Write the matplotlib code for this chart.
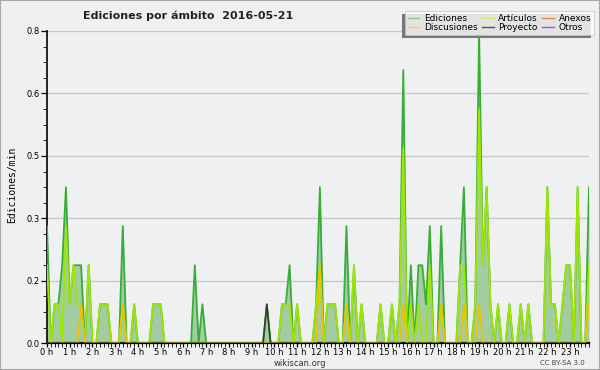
import numpy as np
import matplotlib
matplotlib.use('Agg')
import matplotlib.pyplot as plt
from matplotlib.patches import Rectangle
from matplotlib.lines import Line2D

# 10-minute bins over the day, edits per minute
ediciones = [0.3, 0, 0.1, 0.1, 0.2, 0.4, 0.1, 0.2, 0.2, 0.2, 0, 0.2,
             0, 0, 0.1, 0.1, 0.1, 0, 0, 0, 0.3, 0, 0, 0.1,
             0, 0, 0, 0, 0.1, 0.1, 0.1, 0, 0, 0, 0, 0,
             0, 0, 0, 0.2, 0, 0.1, 0, 0, 0, 0, 0, 0,
             0, 0, 0, 0, 0, 0, 0, 0, 0, 0, 0.1, 0,
             0, 0, 0.1, 0.1, 0.2, 0, 0.1, 0, 0, 0, 0, 0.1,
             0.4, 0, 0.1, 0.1, 0.1, 0, 0, 0.3, 0, 0.2, 0, 0.1,
             0, 0, 0, 0, 0.1, 0, 0, 0.1, 0, 0.1, 0.7, 0,
             0.2, 0, 0.2, 0.2, 0.1, 0.3, 0, 0, 0.3, 0, 0, 0,
             0, 0.2, 0.4, 0, 0, 0.1, 0.8, 0.2, 0.4, 0.1, 0, 0.1,
             0, 0, 0.1, 0, 0, 0.1, 0, 0.1, 0, 0, 0, 0,
             0.4, 0.1, 0.1, 0, 0.1, 0.2, 0.2, 0, 0.4, 0, 0, 0.4]
articulos = [0.2, 0, 0.1, 0.1, 0, 0.3, 0.1, 0.2, 0.1, 0.1, 0, 0.2,
             0, 0, 0.1, 0.1, 0.1, 0, 0, 0, 0.1, 0, 0, 0.1,
             0, 0, 0, 0, 0.1, 0.1, 0.1, 0, 0, 0, 0, 0,
             0, 0, 0, 0, 0, 0, 0, 0, 0, 0, 0, 0,
             0, 0, 0, 0, 0, 0, 0, 0, 0, 0, 0, 0,
             0, 0, 0.1, 0.1, 0.1, 0, 0.1, 0, 0, 0, 0, 0.1,
             0.2, 0, 0.1, 0.1, 0.1, 0, 0, 0.1, 0, 0.2, 0, 0.1,
             0, 0, 0, 0, 0.1, 0, 0, 0.1, 0, 0.1, 0.5, 0,
             0.1, 0, 0.1, 0, 0, 0.2, 0, 0, 0.1, 0, 0, 0,
             0, 0.2, 0.2, 0, 0, 0.1, 0.6, 0.2, 0.4, 0.1, 0, 0.1,
             0, 0, 0.1, 0, 0, 0.1, 0, 0.1, 0, 0, 0, 0,
             0.4, 0.1, 0.1, 0, 0.1, 0.2, 0.2, 0, 0.4, 0, 0, 0.2]
discusiones = [0] * 144
for i in [9, 20, 79, 94, 104, 110, 114, 143]:
    discusiones[i] = 0.1
discusiones[72] = 0.2
proyecto = [0] * 144
proyecto[58] = 0.1

hours = [f'{h} h' for h in range(24)]
y_ticks = [0, 0.16, 0.32, 0.48, 0.64, 0.8]

bg = '#eff0f1'
x = np.arange(len(ediciones))

fig = plt.figure(figsize=(6, 3.7), dpi=100, facecolor=bg)
ax = fig.add_axes([47 / 600, 1 - 343.3 / 370, 542 / 600, 312.3 / 370])
ax.set_facecolor(bg)

ax.fill_between(x, ediciones, color='#a3cca3', lw=0, zorder=2)
ax.plot(x, ediciones, color='#38ad38', lw=1.3, zorder=3)
ax.plot(x, articulos, color='#9fe600', lw=1.3, zorder=4)
ax.plot(x, discusiones, color='#f0c000', lw=1.2, zorder=5)
ax.plot(x, proyecto, color='#2e3e2e', lw=1.2, zorder=6)

ax.set_xlim(0, len(ediciones) - 1)
ax.set_ylim(0, 0.8)
ax.set_yticks(y_ticks)
ax.set_yticklabels([f'{v:.1f}' for v in y_ticks])
ax.set_yticks(np.arange(0, 0.81, 0.04), minor=True)
ax.set_xticks(np.arange(0, 144, 6))
ax.set_xticklabels(hours)
ax.set_xticks(x, minor=True)
ax.tick_params(axis='both', labelsize=6, color='black', width=0.9, pad=1.5)
ax.tick_params(axis='x', which='both', length=3, pad=0.5)
ax.tick_params(axis='y', which='major', length=4)
ax.tick_params(axis='y', which='minor', length=3)
ax.grid(axis='y', color='#c8c8c8', lw=0.9, zorder=1)
for s in ['top', 'right']:
    ax.spines[s].set_visible(False)
ax.spines['left'].set_linewidth(1.2)
ax.spines['bottom'].set_linewidth(1.6)

fig.text(0.313, 0.958, 'Ediciones por ámbito  2016-05-21', ha='center', va='center',
         fontsize=8, fontweight='bold', color='#222222')
fig.text(0.02, 0.5, 'Ediciones/min', rotation=90, ha='center', va='center',
         fontsize=7, family='DejaVu Sans Mono')
fig.text(0.5, 0.018, 'wikiscan.org', ha='center', va='center', fontsize=6, color='#333333')
fig.text(0.938, 0.02, 'CC BY-SA 3.0', ha='center', va='center', fontsize=5, color='#444444')

handles = [Line2D([], [], color='#88cc88', lw=1),
           Line2D([], [], color='#f0d050', lw=1),
           Line2D([], [], color='#ccee66', lw=1),
           Line2D([], [], color='#555555', lw=1),
           Line2D([], [], color='#f08050', lw=1),
           Line2D([], [], color='#9955ee', lw=1)]
labels = ['Ediciones', 'Discusiones', 'Artículos', 'Proyecto', 'Anexos', 'Otros']
leg = fig.legend(handles, labels, ncol=3, loc='upper right', bbox_to_anchor=(0.99, 0.97),
                 fontsize=6.5, frameon=True, fancybox=False, handlelength=1.3,
                 handletextpad=0.5, columnspacing=0.5, labelspacing=0.05,
                 borderpad=0.3, borderaxespad=0)
leg.get_frame().set_facecolor('white')
leg.get_frame().set_edgecolor('#c0c0c0')
leg.get_frame().set_linewidth(0.6)
leg.set_zorder(10)

fig.canvas.draw()
bb = leg.get_window_extent()
fig.add_artist(Rectangle((bb.x0 - 3, bb.y0 - 3), bb.width, bb.height, transform=None,
                         facecolor='#777777', edgecolor='none', zorder=9))

fig.add_artist(Rectangle((0, 0), 1, 1, transform=fig.transFigure, fill=False,
                         edgecolor='#a8a8a8', lw=1.5, zorder=20))

fig.savefig('out.png', dpi=100, facecolor=bg)
